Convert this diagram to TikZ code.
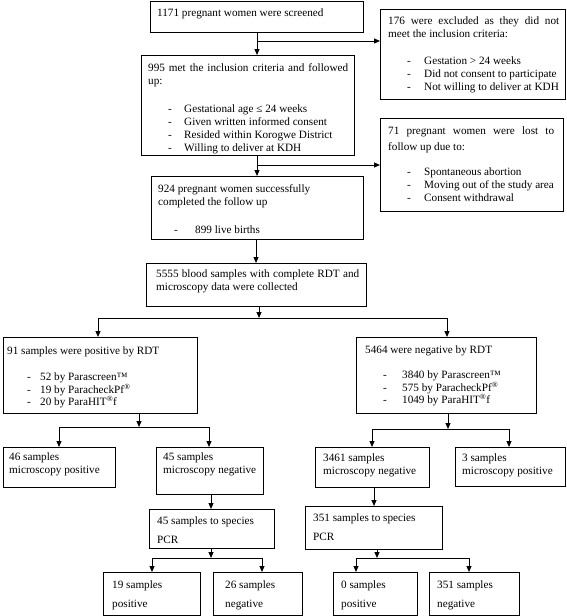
\documentclass[tikz,border=0pt]{standalone}
\usepackage{fontspec}
\setmainfont{Liberation Serif}
\usetikzlibrary{arrows.meta,calc}
\newcommand{\tfirst}{\rule{0pt}{9pt}}
\newcommand{\itm}[1]{\makebox[36pt][l]{\hspace*{19pt}-}#1}
\newcommand{\itmx}[3]{\makebox[#2pt][l]{\hspace*{#1pt}-}#3}
\begin{document}
\begin{tikzpicture}[x=1pt,y=-1pt,
  box/.style={draw=black, line width=1pt, inner sep=0pt, anchor=north west},
  txt/.style={anchor=north west, inner sep=0pt, align=left, font=\fontsize{11.2}{13}\selectfont},
  txtb/.style={txt, font=\fontsize{11.2}{12.5}\selectfont},
  txtw/.style={txt, font=\fontsize{11.2}{18.5}\selectfont},
  arr/.style={line width=1pt, -{Triangle[length=6pt,width=5pt]}},
  ln/.style={line width=1pt}]
\useasboundingbox (0,0) rectangle (567,616);
\fill[white] (0,0) rectangle (567,616);

% boxes
\node[box, minimum width=213pt, minimum height=31pt] (b1) at (150,1) {};
\node[box, minimum width=185pt, minimum height=90pt] (bex) at (380,9) {};
\node[box, minimum width=213pt, minimum height=100pt] (b2) at (141,55) {};
\node[box, minimum width=183pt, minimum height=93pt] (blost) at (380,118) {};
\node[box, minimum width=212pt, minimum height=63pt] (b3) at (151,176) {};
\node[box, minimum width=220pt, minimum height=43pt] (b4) at (146,263) {};
\node[box, minimum width=194pt, minimum height=76pt] (b5) at (3,337) {};
\node[box, minimum width=180pt, minimum height=76pt] (b6) at (356,337) {};
\node[box, minimum width=112pt, minimum height=40pt] (b7) at (3,447) {};
\node[box, minimum width=107pt, minimum height=47pt] (b8) at (156,447) {};
\node[box, minimum width=114pt, minimum height=40pt] (b9) at (315,447) {};
\node[box, minimum width=110pt, minimum height=39pt] (b10) at (455,447) {};
\node[box, minimum width=125pt, minimum height=39pt] (b11) at (149,509) {};
\node[box, minimum width=137pt, minimum height=43pt] (b12) at (305,506) {};
\node[box, minimum width=97pt, minimum height=43pt] (b13) at (103,572) {};
\node[box, minimum width=89pt, minimum height=43pt] (b14) at (213,572) {};
\node[box, minimum width=84pt, minimum height=43pt] (b15) at (333,572) {};
\node[box, minimum width=90pt, minimum height=43pt] (b16) at (429,572) {};

% texts
\node[txt] (t1) at (157,7.5) {\tfirst 1171 pregnant women were screened};
\node[txt] (tex) at (388,15.5) {\tfirst\makebox[171pt][s]{176 were excluded as they did not}\\
  meet the inclusion criteria:\\[14pt]
  \itm{Gestation > 24 weeks}\\
  \itm{Did not consent to participate}\\
  \itm{Not willing to deliver at KDH}};
\node[txt] (t2) at (148,62.5) {\tfirst\makebox[200pt][s]{995 met the inclusion criteria and followed}\\
  up:\\[15pt]
  \itmx{20}{36}{Gestational age ≤ 24 weeks}\\
  \itmx{20}{36}{Given written informed consent}\\
  \itmx{20}{36}{Resided within Korogwe District}\\
  \itmx{20}{36}{Willing to deliver at KDH}};
\node[txt] (tlost) at (388,125.5) {\tfirst\makebox[166pt][s]{71 pregnant women were lost to}\\[3pt]
  follow up due to:\\[12pt]
  \itm{Spontaneous abortion}\\
  \itm{Moving out of the study area}\\
  \itm{Consent withdrawal}};
\node[txt] (t3) at (158,183.5) {\tfirst 924 pregnant women successfully\\
  completed the follow up\\[15pt]
  \itmx{16}{37}{899 live births}};
\node[txt] (t4) at (156,268.5) {\tfirst\makebox[203pt][s]{5555 blood samples with complete RDT and}\\
  microscopy data were collected};
\node[txtb] (t5) at (7,345) {\tfirst 91 samples were positive by RDT\\[14pt]
  \itmx{20}{33}{52 by Parascreen™}\\
  \itmx{20}{33}{19 by ParacheckPf\textsuperscript{®}}\\
  \itmx{20}{33}{20 by ParaHIT\textsuperscript{®}f}};
\node[txtb] (t6) at (365,344.5) {\tfirst 5464 were negative by RDT\\[12.5pt]
  \itmx{18}{37}{3840 by Parascreen™}\\
  \itmx{18}{37}{575 by ParacheckPf\textsuperscript{®}}\\
  \itmx{18}{37}{1049 by ParaHIT\textsuperscript{®}f}};
\node[txt] (t7) at (9,451.5) {\tfirst 46 samples\\ microscopy positive};
\node[txt] (t8) at (163,451.5) {\tfirst 45 samples\\ microscopy negative};
\node[txt] (t9) at (323,452.5) {\tfirst 3461 samples\\ microscopy negative};
\node[txt] (t10) at (462,452.5) {\tfirst 3 samples\\ microscopy positive};
\node[txtw] (t11) at (157,515.5) {\tfirst 45 samples to species\\ PCR};
\node[txtw] (t12) at (313,512.5) {\tfirst 351 samples to species\\ PCR};
\node[txtw] (t13) at (112,579.5) {\tfirst 19 samples\\ positive};
\node[txtw] (t14) at (225,579.5) {\tfirst 26 samples\\ negative};
\node[txtw] (t15) at (341,579.5) {\tfirst 0 samples\\ positive};
\node[txtw] (t16) at (437,579.5) {\tfirst 351 samples\\ negative};

% connectors
\coordinate (j1) at (257,41);
\draw[arr] (b1.south -| j1) -- (b2.north -| j1);
\draw[arr] (j1) -- (j1 -| bex.west);
\coordinate (j2) at (257,165);
\draw[arr] (b2.south -| j2) -- (b3.north -| j2);
\draw[arr] (j2) -- (j2 -| blost.west);
\coordinate (j3) at (256,250);
\draw[arr] (b3.south -| j3) -- (b4.north -| j3);

\coordinate (k1) at (259,318);
\coordinate (k1l) at (98,318);
\coordinate (k1r) at (447,318);
\draw[arr] (b4.south -| k1) -- (k1);
\draw[arr] (k1r) -- (k1l) -- (k1l |- b5.north);
\draw[arr] (k1l) -- (k1r) -- (k1r |- b6.north);

\coordinate (k2) at (139,427);
\coordinate (k2l) at (59,427);
\coordinate (k2r) at (209,427);
\draw[arr] (b5.south -| k2) -- (k2);
\draw[arr] (k2r) -- (k2l) -- (k2l |- b7.north);
\draw[arr] (k2l) -- (k2r) -- (k2r |- b8.north);

\coordinate (k3) at (448,429);
\coordinate (k3l) at (372,429);
\coordinate (k3r) at (509,429);
\draw[arr] (b6.south -| k3) -- (k3);
\draw[arr] (k3r) -- (k3l) -- (k3l |- b9.north);
\draw[arr] (k3l) -- (k3r) -- (k3r |- b10.north);

\coordinate (c8) at (211,500);
\draw[arr] (b8.south -| c8) -- (b11.north -| c8);
\coordinate (c9) at (374,500);
\draw[arr] (b9.south -| c9) -- (b12.north -| c9);

\coordinate (k4) at (211,558);
\coordinate (k4l) at (152,558);
\coordinate (k4r) at (262,558);
\draw[arr] (b11.south -| k4) -- (k4);
\draw[arr] (k4r) -- (k4l) -- (k4l |- b13.north);
\draw[arr] (k4l) -- (k4r) -- (k4r |- b14.north);

\coordinate (k5) at (377,558);
\coordinate (k5l) at (356,558);
\coordinate (k5r) at (469,558);
\draw[arr] (b12.south -| k5) -- (k5);
\draw[arr] (k5r) -- (k5l) -- (k5l |- b15.north);
\draw[arr] (k5l) -- (k5r) -- (k5r |- b16.north);
\end{tikzpicture}
\end{document}
